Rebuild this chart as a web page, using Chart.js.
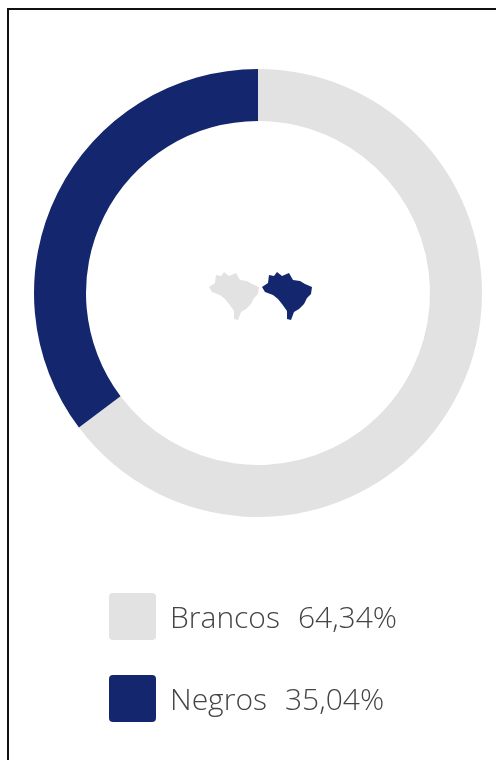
<!DOCTYPE html>
<html lang="pt-BR">
<head>
<meta charset="utf-8">
<title>Brancos e Negros</title>
<script src="https://cdn.jsdelivr.net/npm/chart.js@4/dist/chart.umd.min.js"></script>
<style>
  html, body { margin: 0; padding: 0; background: #fff; }
  #frame { position: relative; width: 496px; height: 760px; overflow: hidden; box-sizing: border-box; }
  #frame::before { content: ""; position: absolute; left: 7px; top: 8px; width: 489px; height: 752px;
    box-sizing: border-box; border-top: 2px solid #111; border-left: 2px solid #111; }
  #ring { position: absolute; left: 0; top: 0; }
  .key { position: absolute; left: 109px; display: flex; align-items: center; height: 48px;
    font: 300 30px "Open Sans", sans-serif; color: #444; white-space: pre; }
  .swatch { width: 47px; height: 47px; border-radius: 4px; margin-right: 14px; }
  .pct { margin-left: 18px; }
  #maps { position: absolute; left: 209px; top: 270px; }
</style>
</head>
<body>
<div id="frame">
  <canvas id="ring" width="496" height="760"></canvas>
  <svg id="maps" width="106" height="54" viewBox="0 0 106 54"></svg>
  <div id="legend"></div>
</div>
<script>
// Parcela de cada grupo, na ordem em que o anel é desenhado a partir do topo
const groups = ['Brancos', 'Negros'];
const shares = [64.34, 35.04];
const shareLabels = ['64,34%', '35,04%'];
const colors = ['#e2e2e2', '#14276e'];
const legendTops = [592, 674];

// Contorno simplificado do mapa do Brasil, usado como ícone no centro do anel
const brazilOutline = 'M0 17 L6 13 L7 5 L12 6 L15 2 L20 6 L27 3 L31 10 L38 11 L43 14 L50 17 L49 24 L45 28 L42 34 L37 39 L32 42 L29 50 L25 49 L25 41 L20 34 L16 29 L11 25 L3 22 Z';

const mapsSvg = document.getElementById('maps');
[[0, colors[0]], [53, colors[1]]].forEach(([shift, fill]) => {
  const p = document.createElementNS('http://www.w3.org/2000/svg', 'path');
  p.setAttribute('d', brazilOutline);
  p.setAttribute('fill', fill);
  p.setAttribute('transform', `translate(${shift} 0)`);
  mapsSvg.appendChild(p);
});

// Legenda com amostra de cor, nome e percentual
const legend = document.getElementById('legend');
groups.forEach((name, i) => {
  const row = document.createElement('div');
  row.className = 'key';
  row.style.top = legendTops[i] + 'px';
  row.innerHTML = `<span class="swatch" style="background:${colors[i]}"></span><span>${name}</span><span class="pct">${shareLabels[i]}</span>`;
  legend.appendChild(row);
});

new Chart(document.getElementById('ring'), {
  type: 'doughnut',
  data: {
    labels: groups,
    datasets: [{ data: shares, backgroundColor: colors, borderWidth: 0, hoverOffset: 0 }]
  },
  options: {
    responsive: false,
    animation: false,
    cutout: 172,
    radius: 224,
    layout: { padding: { left: 34, right: 14, top: 69, bottom: 243 } },
    plugins: { legend: { display: false }, tooltip: { enabled: false } }
  }
});
</script>
</body>
</html>
